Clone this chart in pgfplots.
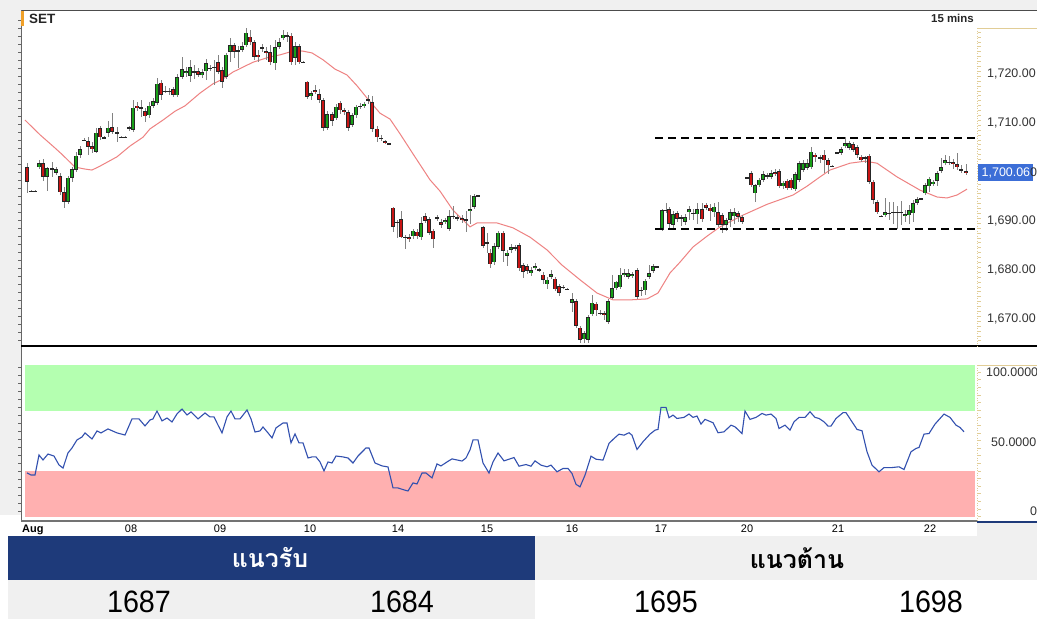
\documentclass[border=0pt]{standalone}
\usepackage{fontspec}
\setmainfont{Liberation Sans}
\newfontfamily\thaifont[Script=Thai]{Loma}
\usepackage{pgfplots}
\usepackage{pgfplotstable}
\pgfplotsset{compat=1.18}
\definecolor{cgreen}{RGB}{24,160,24}
\definecolor{cred}{RGB}{200,20,20}
\definecolor{cwick}{RGB}{130,130,130}
\definecolor{maline}{RGB}{238,130,130}
\definecolor{rsiline}{RGB}{50,80,175}
\definecolor{bandgreen}{RGB}{180,255,176}
\definecolor{bandred}{RGB}{255,176,176}
\definecolor{navy}{RGB}{30,58,122}
\definecolor{lgray}{RGB}{240,240,240}
\definecolor{tanl}{RGB}{225,205,150}
\definecolor{pxblue}{RGB}{60,110,215}
\definecolor{orangem}{RGB}{240,160,40}

% up candles: x open high low close
\pgfplotstableread{
x o h l c
39 1701.0 1702.4 1700.6 1701.8
47 1699.0 1701.0 1696.1 1700.8
56 1699.8 1701.0 1699.4 1700.6
68 1693.9 1699.2 1693.5 1698.8
72 1698.8 1701.0 1698.0 1700.6
76 1700.4 1704.1 1700.0 1703.3
80 1703.5 1705.3 1702.9 1704.7
84 1706.4 1706.9 1706.3 1706.6
96 1704.1 1709.0 1703.9 1708.0
104 1706.9 1707.3 1706.7 1707.1
108 1708.0 1710.4 1707.1 1709.0
133 1708.6 1714.7 1708.2 1713.1
149 1711.6 1714.3 1711.0 1713.5
153 1713.5 1715.1 1713.1 1714.5
157 1714.1 1719.2 1713.7 1718.0
177 1715.7 1720.0 1715.3 1719.4
182 1719.4 1723.5 1719.0 1721.0
186 1720.2 1721.4 1719.4 1720.6
190 1719.6 1722.9 1718.4 1721.4
202 1719.8 1721.0 1719.2 1720.4
206 1720.6 1723.1 1718.8 1722.2
210 1721.1 1721.8 1720.6 1721.3
226 1719.4 1724.3 1719.0 1723.9
230 1724.5 1727.3 1722.4 1725.9
242 1724.9 1726.5 1724.5 1725.7
246 1725.9 1729.4 1725.5 1728.4
275 1722.2 1726.9 1720.8 1725.5
279 1725.5 1727.3 1725.1 1726.5
283 1727.3 1729.0 1726.9 1728.0
295 1723.3 1726.5 1721.8 1725.7
311 1715.5 1716.5 1714.7 1716.1
327 1709.0 1712.4 1708.6 1711.8
336 1711.0 1713.9 1710.6 1713.3
352 1709.6 1712.0 1709.2 1711.6
356 1711.6 1713.7 1711.0 1713.3
360 1713.3 1714.1 1712.9 1713.5
364 1713.5 1714.3 1713.1 1713.9
397 1689.6 1690.2 1686.5 1689.8
413 1686.9 1688.4 1686.3 1688.0
421 1686.7 1690.8 1686.1 1689.6
445 1689.8 1690.6 1689.4 1690.2
449 1688.4 1692.2 1688.0 1691.0
470 1692.0 1695.3 1689.4 1692.4
474 1692.9 1695.5 1692.4 1695.1
494 1681.6 1685.5 1681.0 1684.9
498 1684.7 1688.0 1684.3 1687.6
507 1682.9 1684.1 1680.8 1683.5
511 1684.1 1685.3 1683.5 1684.7
531 1679.4 1680.6 1678.8 1680.0
535 1680.4 1681.4 1680.0 1680.8
547 1677.1 1678.6 1676.1 1678.0
551 1678.6 1680.0 1678.2 1679.2
572 1673.3 1675.3 1671.4 1674.1
584 1665.9 1667.6 1665.1 1667.1
588 1665.7 1670.8 1665.1 1670.4
592 1671.0 1674.9 1670.6 1673.3
600 1671.1 1671.8 1670.8 1671.3
608 1669.4 1674.1 1669.0 1673.7
612 1674.3 1679.0 1674.1 1676.3
616 1676.3 1677.8 1675.9 1677.6
620 1676.5 1680.4 1676.1 1679.0
624 1679.0 1680.2 1678.6 1679.4
628 1678.6 1680.2 1678.2 1679.4
632 1678.8 1679.6 1678.4 1679.2
645 1675.9 1678.2 1674.9 1677.8
649 1678.6 1681.0 1678.2 1679.4
653 1679.8 1681.2 1679.4 1680.8
662 1688.2 1692.4 1688.0 1692.2
673 1689.2 1692.0 1688.6 1691.4
685 1689.8 1691.4 1689.2 1690.8
689 1691.8 1693.1 1690.2 1692.4
697 1691.4 1693.7 1689.4 1692.4
714 1691.8 1693.7 1690.8 1692.9
726 1689.2 1690.6 1688.0 1690.2
730 1690.2 1692.4 1688.8 1691.8
734 1691.0 1692.7 1689.4 1691.8
755 1695.7 1697.6 1693.9 1697.3
759 1697.3 1698.8 1696.9 1698.4
763 1698.4 1700.2 1698.0 1699.6
771 1699.0 1700.4 1698.6 1699.8
783 1697.1 1698.2 1696.5 1697.8
795 1696.5 1700.0 1696.1 1699.6
799 1698.4 1702.2 1698.0 1701.8
803 1700.4 1702.4 1700.0 1701.8
807 1700.8 1702.7 1700.4 1701.8
811 1701.0 1705.1 1700.6 1704.1
841 1703.9 1705.1 1703.5 1704.7
845 1705.3 1707.1 1704.9 1705.9
849 1704.9 1706.3 1704.5 1705.9
885 1691.2 1694.7 1690.8 1691.8
905 1691.0 1692.2 1689.8 1691.4
909 1691.2 1693.3 1689.4 1692.2
913 1691.6 1694.3 1689.8 1693.7
917 1693.7 1694.9 1693.3 1694.5
925 1695.7 1697.8 1695.3 1697.3
929 1697.1 1699.0 1695.9 1698.6
933 1697.6 1698.4 1697.1 1698.0
937 1698.2 1700.2 1697.1 1699.8
941 1700.2 1702.9 1699.8 1701.0
945 1701.8 1703.5 1701.4 1702.4
}\upc

% down candles: x open high low close
\pgfplotstableread{
x o h l c
27 1701.0 1701.8 1695.7 1698.0
43 1701.8 1702.7 1698.2 1699.0
60 1699.2 1699.8 1695.3 1695.9
64 1695.9 1696.9 1692.7 1693.9
88 1706.3 1707.1 1703.5 1705.1
92 1705.3 1706.1 1703.9 1704.7
100 1709.0 1709.4 1706.5 1707.1
112 1709.2 1712.0 1707.8 1708.2
137 1713.5 1714.3 1712.4 1713.1
145 1712.4 1713.1 1710.2 1711.4
161 1718.2 1718.8 1714.7 1715.7
173 1716.9 1717.3 1715.3 1715.7
198 1720.6 1721.2 1719.4 1719.8
218 1722.4 1723.9 1720.0 1720.4
222 1720.8 1721.4 1717.1 1718.4
234 1725.9 1726.3 1723.3 1724.5
250 1727.6 1729.0 1725.9 1726.5
254 1726.5 1726.9 1722.9 1723.5
258 1723.9 1724.9 1722.4 1723.5
266 1724.7 1725.5 1722.9 1724.3
270 1724.5 1725.9 1721.8 1722.4
291 1727.8 1728.4 1721.8 1722.4
299 1725.7 1726.1 1722.0 1722.4
307 1718.4 1718.6 1714.9 1715.3
315 1716.7 1717.8 1715.9 1716.3
319 1715.9 1716.9 1714.1 1714.7
323 1714.7 1715.1 1708.4 1709.0
332 1711.8 1712.2 1709.4 1710.4
340 1714.1 1714.5 1711.8 1712.6
344 1712.6 1713.1 1711.6 1712.2
348 1712.2 1712.6 1708.4 1709.0
372 1714.3 1715.5 1708.2 1708.8
377 1708.8 1709.4 1706.1 1707.1
385 1706.3 1706.5 1705.7 1706.0
393 1692.7 1692.9 1687.8 1688.8
401 1690.4 1692.0 1686.5 1686.7
409 1686.7 1687.3 1685.7 1686.3
417 1687.8 1688.4 1686.3 1686.9
425 1691.0 1691.6 1689.6 1690.0
429 1690.4 1690.8 1687.1 1687.6
433 1688.0 1688.4 1684.5 1686.3
441 1689.8 1690.4 1688.6 1689.2
462 1690.6 1691.2 1689.6 1690.2
483 1688.8 1689.0 1684.5 1684.9
490 1683.5 1684.3 1680.4 1681.2
503 1687.6 1688.0 1681.6 1683.9
519 1685.1 1685.5 1679.8 1680.4
523 1681.0 1681.4 1678.4 1679.6
527 1680.8 1681.2 1679.2 1679.8
543 1679.0 1679.6 1677.1 1678.0
555 1678.2 1678.6 1675.7 1676.1
559 1676.7 1677.1 1674.7 1675.3
563 1676.6 1676.9 1676.1 1676.4
576 1673.7 1674.1 1668.2 1668.6
580 1668.2 1668.6 1665.1 1665.7
596 1673.1 1673.5 1670.6 1671.8
604 1671.2 1671.6 1669.8 1670.8
637 1680.0 1680.4 1674.1 1674.5
669 1692.4 1692.9 1688.6 1689.4
677 1691.6 1692.0 1689.8 1690.4
702 1692.4 1693.7 1689.8 1690.4
706 1693.3 1693.7 1692.2 1692.7
710 1692.7 1693.5 1690.0 1692.0
718 1691.8 1693.9 1688.8 1689.2
722 1691.2 1691.6 1687.6 1689.2
738 1691.6 1692.0 1689.8 1690.8
742 1690.8 1691.2 1689.4 1689.8
751 1699.8 1700.2 1696.9 1697.3
775 1700.0 1700.6 1699.2 1699.6
779 1700.2 1700.6 1696.7 1697.1
787 1698.2 1698.6 1696.3 1696.7
791 1698.4 1698.8 1696.3 1696.7
815 1703.5 1703.9 1702.0 1703.1
824 1703.5 1704.5 1699.8 1702.4
828 1702.4 1702.9 1699.6 1701.4
853 1705.7 1706.1 1704.1 1704.5
857 1705.1 1705.5 1702.9 1703.5
861 1703.1 1703.5 1702.0 1702.4
869 1703.3 1703.7 1697.6 1698.0
873 1698.0 1698.4 1693.5 1694.3
877 1693.9 1694.3 1691.4 1691.8
953 1702.0 1702.7 1700.6 1701.6
957 1701.6 1703.9 1700.4 1701.0
966 1700.2 1701.6 1699.4 1699.8
}\downc

% doji candles: x price high low
\pgfplotstableread{
x p h l
31 1696.1 1696.3 1695.9
35 1696.1 1696.3 1695.9
52 1700.6 1702.0 1699.0
117 1708.0 1709.2 1706.1
121 1707.1 1707.3 1706.9
125 1707.1 1707.3 1706.9
129 1709.0 1709.4 1708.4
141 1713.1 1714.7 1711.2
165 1716.5 1717.6 1716.1
169 1716.5 1717.1 1715.7
194 1720.4 1721.8 1719.0
214 1721.4 1722.9 1717.8
238 1724.7 1725.7 1721.2
262 1725.3 1726.1 1724.5
287 1727.8 1728.6 1726.5
303 1722.4 1722.6 1722.2
368 1714.7 1715.7 1713.9
381 1706.9 1707.6 1706.3
389 1705.7 1705.9 1705.5
405 1686.7 1687.1 1684.3
437 1690.6 1691.2 1690.0
453 1691.0 1693.1 1690.4
457 1690.6 1691.2 1690.0
466 1690.2 1692.0 1687.8
478 1695.1 1695.3 1694.9
487 1685.5 1687.6 1683.5
515 1684.5 1685.1 1683.9
539 1680.0 1680.4 1679.6
567 1676.1 1676.3 1675.9
641 1675.9 1676.5 1674.7
657 1680.6 1680.8 1680.4
666 1692.2 1693.7 1691.6
681 1690.6 1691.2 1689.0
693 1691.6 1692.4 1690.2
747 1698.8 1699.0 1698.6
767 1699.2 1699.8 1698.6
820 1702.9 1703.5 1701.8
832 1701.2 1701.4 1701.0
837 1703.9 1704.1 1703.7
865 1702.9 1703.3 1701.8
881 1691.0 1691.2 1690.8
889 1691.6 1693.9 1690.2
893 1691.8 1693.9 1689.4
897 1691.8 1693.1 1688.4
901 1691.8 1694.1 1689.2
921 1694.5 1694.7 1694.3
949 1702.0 1703.3 1701.4
961 1700.4 1701.4 1699.8
}\dojic

% moving average
\pgfplotstableread{
x ma
25 1710.6
40 1707.6
55 1704.9
62 1703.6
75 1701.0
85 1700.6
92 1700.4
100 1701.2
117 1703.1
130 1705.3
143 1707.1
150 1708.8
163 1710.6
175 1712.4
185 1713.5
200 1716.1
213 1718.0
223 1719.0
233 1720.4
253 1722.4
270 1723.5
280 1723.9
290 1724.5
302 1724.7
312 1724.3
323 1722.9
335 1721.0
347 1719.8
357 1717.6
367 1715.1
380 1712.0
390 1710.8
400 1707.8
413 1703.7
430 1698.4
440 1696.1
453 1692.2
463 1690.2
470 1688.8
477 1689.6
497 1689.6
513 1688.6
530 1686.7
547 1684.1
562 1681.0
580 1678.0
597 1675.3
613 1673.9
630 1673.9
647 1674.1
658 1675.3
670 1679.4
680 1681.6
693 1684.7
707 1686.9
720 1688.8
743 1691.2
767 1693.4
793 1695.3
807 1697.1
820 1699.0
830 1700.4
850 1701.8
865 1702.2
877 1701.8
897 1699.0
920 1696.3
937 1694.9
947 1694.7
957 1695.3
967 1696.5
}\matab

% RSI
\pgfplotstableread{
x v
27 29.0
31 27.6
35 27.6
39 40.8
43 37.5
48 41.4
54 40.1
59 34.2
63 32.2
68 42.1
72 45.4
77 50.7
82 52.6
85 55.3
92 51.3
97 56.6
101 55.3
108 57.9
117 55.3
125 53.9
132 64.5
139 64.5
145 59.9
150 63.8
153 64.5
157 69.7
162 63.2
167 65.1
172 62.5
177 67.8
182 71.0
187 67.1
191 69.1
198 64.5
205 68.4
210 65.8
214 65.8
218 60.5
222 55.3
227 65.8
231 69.7
235 64.5
240 64.5
247 70.4
251 64.5
255 55.9
260 56.6
263 59.2
268 55.3
272 52.0
276 58.6
283 61.8
287 61.8
291 48.7
295 54.6
299 48.7
303 48.7
308 38.8
312 39.5
316 39.5
320 36.2
324 30.3
328 36.2
332 35.5
336 40.1
343 39.5
348 38.8
353 35.5
358 40.1
366 45.4
369 45.4
375 35.5
382 33.6
388 32.9
393 19.1
398 19.1
404 17.8
408 17.1
413 22.4
417 21.7
422 28.9
426 28.9
432 25.7
437 34.9
441 33.6
447 36.2
452 38.2
462 36.8
466 38.8
470 44.1
473 50.7
478 50.7
483 35.5
489 28.9
493 36.2
498 42.1
504 36.9
514 39.1
519 33.4
526 34.5
531 33.4
535 36.9
541 34.1
547 33.0
551 34.1
557 29.7
563 31.9
568 31.9
572 28.6
576 21.5
580 19.8
585 27.5
591 40.0
596 38.0
603 37.4
609 48.4
614 51.6
619 54.5
624 53.8
629 55.4
632 53.8
637 44.4
643 49.5
650 54.5
655 57.1
658 57.6
661 72.1
666 72.1
669 65.3
673 67.0
677 64.8
684 65.5
689 67.7
693 65.5
697 66.4
701 61.1
705 64.2
713 62.0
718 55.4
724 56.0
731 60.4
735 59.3
742 54.9
745 69.7
750 64.2
756 65.5
762 68.1
766 67.0
771 67.7
776 64.8
779 58.2
785 60.4
790 57.1
794 62.6
799 65.5
805 65.5
810 69.2
815 65.5
819 64.8
824 62.6
828 59.8
831 59.8
836 64.8
843 68.6
846 68.6
852 62.6
857 57.6
862 56.7
867 42.9
872 34.1
879 29.7
884 32.5
892 32.5
899 33.0
904 31.2
911 42.9
916 45.1
919 45.7
924 54.5
929 54.9
935 61.1
944 67.7
950 65.5
956 60.4
960 58.9
964 56.0
}\rsitab

\pgfplotsset{
  ebase/.style={draw=none, mark=none, forget plot,
    error bars/.cd, y dir=both, y explicit, error mark=none},
}

\begin{document}
\begin{tikzpicture}
\path[use as bounding box] (0,0) rectangle (1037bp,-619bp);
\clip (0,0) rectangle (1037bp,-619bp);
\begin{scope}[x=1bp,y=-1bp]
  \fill[white] (0,0) rectangle (1037,619);
  \fill[lgray] (0,0) rectangle (1037,10);
  \fill[lgray] (0,0) rectangle (21,515);
  \fill[lgray] (977,522) rectangle (1037,536);
\end{scope}

% ---------- price panel ----------
\begin{axis}[
  at={(22bp,-346bp)}, anchor=south west,
  scale only axis, width=955bp, height=336bp,
  xmin=22, xmax=977, ymin=1664.49, ymax=1733.06,
  axis line style={draw=none},
  xtick=\empty,
  ytick={1670,1680,1690,1710,1720},
  yticklabel pos=right,
  ytick style={draw=none},
  yticklabel style={font=\fontsize{12.5}{14}\selectfont, text=black!80, anchor=west, inner sep=0pt, xshift=10bp,
    /pgf/number format/fixed, /pgf/number format/fixed zerofill,
    /pgf/number format/precision=2, /pgf/number format/1000 sep={,},
    /pgf/number format/assume math mode=true},
]
\addplot[maline, line width=1bp, mark=none] table[x=x, y=ma] {\matab};
% wicks
\addplot[ebase, error bar style={draw=cwick, line width=0.9bp}]
  table[x=x, y expr={(\thisrow{h}+\thisrow{l})/2}, y error expr={(\thisrow{h}-\thisrow{l})/2}] {\upc};
\addplot[ebase, error bar style={draw=cwick, line width=0.9bp}]
  table[x=x, y expr={(\thisrow{h}+\thisrow{l})/2}, y error expr={(\thisrow{h}-\thisrow{l})/2}] {\downc};
\addplot[ebase, error bar style={draw=cwick, line width=0.9bp}]
  table[x=x, y expr={(\thisrow{h}+\thisrow{l})/2}, y error expr={(\thisrow{h}-\thisrow{l})/2}] {\dojic};
% bodies
\addplot[ebase, error bar style={draw=black!85, line width=3.7bp}]
  table[x=x, y expr={(\thisrow{o}+\thisrow{c})/2}, y error expr={max(abs(\thisrow{c}-\thisrow{o})/2,0.12)}] {\upc};
\addplot[ebase, error bar style={draw=cgreen, line width=2.3bp}]
  table[x=x, y expr={(\thisrow{o}+\thisrow{c})/2}, y error expr={max(abs(\thisrow{c}-\thisrow{o})/2-0.12,0)}] {\upc};
\addplot[ebase, error bar style={draw=black!85, line width=3.7bp}]
  table[x=x, y expr={(\thisrow{o}+\thisrow{c})/2}, y error expr={max(abs(\thisrow{c}-\thisrow{o})/2,0.12)}] {\downc};
\addplot[ebase, error bar style={draw=cred, line width=2.3bp}]
  table[x=x, y expr={(\thisrow{o}+\thisrow{c})/2}, y error expr={max(abs(\thisrow{c}-\thisrow{o})/2-0.12,0)}] {\downc};
\addplot[ebase, error bar style={draw=black!85, line width=3.7bp}]
  table[x=x, y=p, y error expr={0.12}] {\dojic};
% support / resistance
\addplot[black, line width=2.2bp, dash pattern=on 8bp off 5bp, mark=none] coordinates {(655,1706.9) (977,1706.9)};
\addplot[black, line width=2.2bp, dash pattern=on 8bp off 5bp, mark=none] coordinates {(655,1688.4) (977,1688.4)};
\end{axis}

% ---------- RSI panel ----------
\begin{axis}[
  at={(22bp,-520bp)}, anchor=south west,
  scale only axis, width=955bp, height=174bp,
  xmin=22, xmax=977, ymin=-2, ymax=112.47,
  axis line style={draw=none},
  ytick=\empty,
  xtick={131,220,310,398,487,572,661,747,838,930},
  xticklabels={08,09,10,14,15,16,17,20,21,22},
  xtick style={draw=none},
  xticklabel style={font=\fontsize{11}{12}\selectfont, inner sep=0pt, yshift=-4.5bp},
]
\addplot[draw=none, fill=bandgreen, mark=none] coordinates {(25,70) (975,70) (975,100) (25,100)};
\addplot[draw=none, fill=bandred, mark=none] coordinates {(25,0) (975,0) (975,30) (25,30)};
\addplot[rsiline, line width=1.1bp, mark=none] table[x=x, y=v] {\rsitab};
\end{axis}

% ---------- frame & labels ----------
\begin{scope}[x=1bp,y=-1bp]
  \draw[black!70, line width=1bp] (21,10.5) -- (1037,10.5);
  \draw[black!60, line width=1bp] (21.5,10) -- (21.5,521);
  \foreach \yy in {20,28,...,340} \draw[black!60, line width=0.6bp] (18,\yy) -- (21.5,\yy);
  \foreach \yy in {367,375,...,517} \draw[black!60, line width=0.6bp] (18,\yy) -- (21.5,\yy);
  \draw[black, line width=1.2bp] (21,346) -- (1037,346);
  \draw[black!55, line width=1.5bp] (21,521) -- (977,521);
  \draw[navy, line width=1.2bp] (977,522) -- (1037,522);
  % right axes
  \draw[tanl, line width=1bp] (977,28.5) -- (1037,28.5);
  \draw[tanl, line width=1bp, dash pattern=on 1bp off 1.5bp] (977.5,28) -- (977.5,346);
  \foreach \yy in {32,36.9,...,345} \draw[tanl, line width=0.6bp] (977.5,\yy) -- (980.5,\yy);
  \draw[tanl, line width=1bp] (977,365.5) -- (1037,365.5);
  \draw[tanl, line width=1bp, dash pattern=on 1bp off 1.5bp] (977.5,365) -- (977.5,521);
  \foreach \yy in {372,379.6,...,520} \draw[tanl, line width=0.6bp] (977.5,\yy) -- (980.5,\yy);
  % headers
  \fill[orangem] (21,11) rectangle (24,26);
  \node[anchor=west, inner sep=0pt, font=\bfseries\fontsize{13.5}{15}\selectfont, text=black!85] at (29,18.5) {SET};
  \node[anchor=east, inner sep=0pt, font=\bfseries\fontsize{11.5}{13}\selectfont, text=black!85] at (974,18.5) {15 mins};
  % last price box
  \fill[pxblue] (978,164) rectangle (1033,181);
  \node[anchor=west, inner sep=0pt, font=\fontsize{12.5}{14}\selectfont] at (981.5,172.5) {\textcolor{white}{1,700.06}\textcolor{black!80}{0}};
  % RSI labels
  \node[anchor=west, inner sep=0pt, font=\fontsize{12.5}{14}\selectfont, text=black!80] at (986,372) {100.0000};
  \node[anchor=west, inner sep=0pt, font=\fontsize{12.5}{14}\selectfont, text=black!80] at (991,442) {50.0000};
  \node[anchor=west, inner sep=0pt, font=\fontsize{12.5}{14}\selectfont, text=black!80] at (1030,511) {0};
  \node[anchor=west, inner sep=0pt, font=\bfseries\fontsize{11}{12}\selectfont] at (22,529.5) {Aug};
  % table
  \fill[navy] (8,536) rectangle (535,580);
  \fill[lgray] (535,536) rectangle (1037,580);
  \fill[lgray] (8,580) rectangle (535,619);
  \node[text=white, font=\thaifont\bfseries\fontsize{25}{30}\selectfont] at (270,558) {แนวรับ};
  \node[text=black, font=\thaifont\bfseries\fontsize{25}{30}\selectfont] at (797,558) {แนวต้าน};
  \node[inner sep=0pt, font=\fontsize{31}{31}\selectfont] at (139,602) {\scalebox{0.93}[1]{1687}};
  \node[inner sep=0pt, font=\fontsize{31}{31}\selectfont] at (402,602) {\scalebox{0.93}[1]{1684}};
  \node[inner sep=0pt, font=\fontsize{31}{31}\selectfont] at (666,602) {\scalebox{0.93}[1]{1695}};
  \node[inner sep=0pt, font=\fontsize{31}{31}\selectfont] at (931,602) {\scalebox{0.93}[1]{1698}};
\end{scope}
\end{tikzpicture}
\end{document}
